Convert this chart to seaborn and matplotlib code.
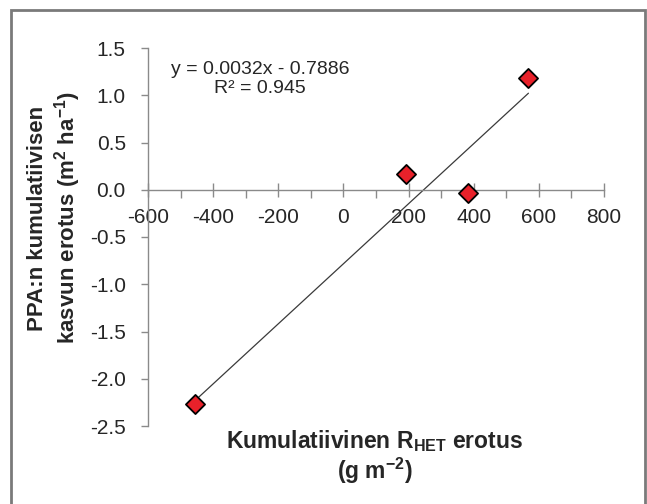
import numpy as np
import pandas as pd
import seaborn as sns
import matplotlib.pyplot as plt
from matplotlib.patches import Rectangle
from matplotlib.ticker import MultipleLocator, FormatStrFormatter

# data
rhet_diff = [-455, 193, 381, 568]
ppa_diff = [-2.27, 0.17, -0.03, 1.18]
x_ticks = [-600, -400, -200, 0, 200, 400, 600, 800]
y_ticks = [-2.5, -2.0, -1.5, -1.0, -0.5, 0.0, 0.5, 1.0, 1.5]
eq_text = "y = 0.0032x - 0.7886\nR\u00b2 = 0.945"

sns.set_style("white")
plt.rcParams['font.family'] = ['Liberation Sans', 'DejaVu Sans']
plt.rcParams['axes.unicode_minus'] = False
plt.rcParams['mathtext.fontset'] = 'custom'
plt.rcParams['mathtext.rm'] = 'Liberation Sans'
plt.rcParams['mathtext.bf'] = 'Liberation Sans:bold'

df = pd.DataFrame({'x': rhet_diff, 'y': ppa_diff})
spine_col = '#8a8a8a'

fig = plt.figure(figsize=(6.47, 5.04), dpi=100)
ax = fig.add_axes([148 / 647, 1 - 426 / 504, 456 / 647, 378 / 504])

# trendline over data range, then markers on top
sns.regplot(data=df, x='x', y='y', scatter=False, ci=None, truncate=True,
            line_kws={'color': '#3a3a3a', 'lw': 0.9}, ax=ax)
sns.scatterplot(data=df, x='x', y='y', marker='D', s=95, color='#e8212a',
                edgecolor='black', linewidth=1.3, zorder=5, ax=ax, legend=False)

ax.set_xlim(-600, 800)
ax.set_ylim(-2.5, 1.5)

# axes cross at y = 0
ax.spines['bottom'].set_position(('data', 0))
ax.spines['top'].set_visible(False)
ax.spines['right'].set_visible(False)
for s in ('left', 'bottom'):
    ax.spines[s].set_color(spine_col)
    ax.spines[s].set_linewidth(1.0)

ax.set_xticks(x_ticks)
ax.set_yticks(y_ticks)
ax.xaxis.set_minor_locator(MultipleLocator(100))
ax.yaxis.set_major_formatter(FormatStrFormatter('%.1f'))
ax.tick_params(axis='x', which='major', direction='inout', length=10, width=1,
               color=spine_col, labelsize=15, pad=8, bottom=True)
ax.tick_params(axis='x', which='minor', direction='out', length=5.5, width=1,
               color=spine_col, bottom=True)
ax.tick_params(axis='y', which='major', direction='out', length=5, width=1,
               color=spine_col, labelsize=15, pad=11, left=True)

ax.text(-255, 1.17, eq_text, ha='center', va='center', fontsize=14,
        linespacing=1.15)

ax.set_xlabel("Kumulatiivinen R$_{\\mathbf{HET}}$ erotus\n(g m$^{\\mathbf{-2}}$)",
              fontsize=16.5, fontweight='bold', linespacing=1.1)
ax.xaxis.set_label_coords((375 - 148) / 456, (426 - 457) / 378)
ax.xaxis.label.set_va('center')

ax.set_ylabel("PPA:n kumulatiivisen\nkasvun erotus (m$^{\\mathbf{2}}$ ha$^{\\mathbf{-1}}$)",
              fontsize=16, fontweight='bold', linespacing=1.15)
ax.yaxis.set_label_coords((55 - 148) / 456, (426 - 218) / 378)
ax.yaxis.label.set_va('center')

# outer chart frame
fig.patches.append(Rectangle((11 / 647, -0.1), (645 - 11) / 647, 1 - 10 / 504 + 0.1,
                             transform=fig.transFigure, fill=False,
                             edgecolor='#7a7a7a', lw=2))

fig.savefig('out.png', dpi=100)
